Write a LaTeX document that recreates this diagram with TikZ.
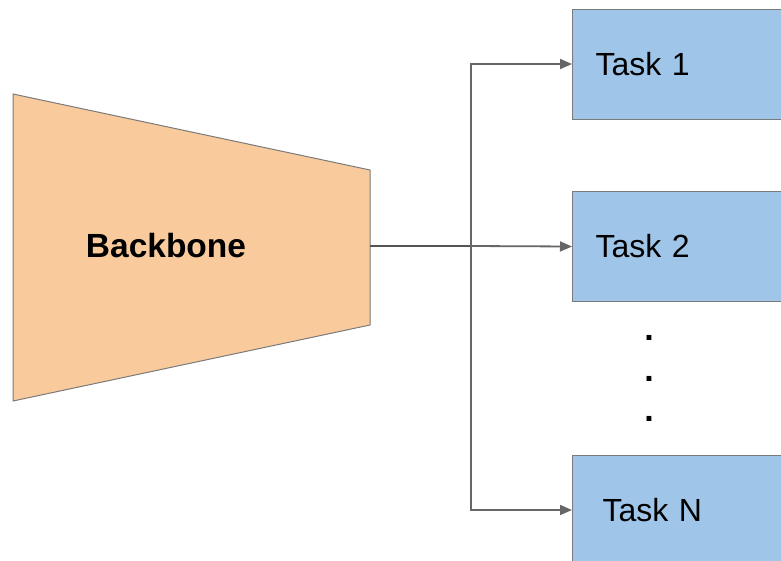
\documentclass[tikz,border=0pt]{standalone}
\usepackage{fontspec}
\setmainfont{Liberation Sans}
\usepackage{tikz}
\usetikzlibrary{arrows.meta}

\definecolor{bbfill}{HTML}{F9CB9C}
\definecolor{taskfill}{HTML}{9FC5E8}
\definecolor{linegray}{HTML}{666666}
\definecolor{stubgray}{HTML}{555555}
\definecolor{edgegray}{HTML}{7A7A7A}

\tikzset{
  taskbox/.style={draw=edgegray, line width=1pt, fill=taskfill, anchor=west,
    minimum height=110pt, text width=200pt, inner xsep=23pt, align=left,
    font=\fontsize{32}{37}\selectfont},
  link/.style={draw=linegray, line width=1.8pt,
    -{Triangle[length=12pt,width=10pt]}},
  dotmark/.style={anchor=base, font=\bfseries\fontsize{34}{38}\selectfont, inner sep=0pt}
}

\begin{document}
\begin{tikzpicture}[x=1pt, y=-1pt]
  \useasboundingbox (0,0) rectangle (781,560);
  \clip (0,0) rectangle (781,560);

  % Define nodes
  \coordinate (bbnw) at (13,94);
  \coordinate (bbne) at (370,170);
  \coordinate (bbse) at (370,325);
  \coordinate (bbsw) at (13,401);
  \fill[bbfill, draw=edgegray, line width=1pt] (bbnw) -- (bbne) -- (bbse) -- (bbsw) -- cycle;
  \node[font=\bfseries\fontsize{33.5}{38}\selectfont] (bb) at (166,246) {Backbone};
  \coordinate (bbout) at (370,246);
  \coordinate (split) at (471,246);

  \node[taskbox]                     (t1) at (572,64)  {Task 1};
  \node[taskbox]                     (t2) at (572,246.5) {Task 2};
  \node[taskbox, inner xsep=30pt]    (tn) at (572,510) {Task N};

  \node[dotmark] (d1) at (649,340) {.};
  \node[dotmark] (d2) at (649,381) {.};
  \node[dotmark] (d3) at (649,421) {.};

  % Connect the nodes
  \draw[draw=stubgray, line width=2.2pt] (bbout) -- (split);
  \draw[link] (split) |- (t1.west);
  \draw[link] (split) -- (t2.west);
  \draw[link] (split) |- (tn.west);
\end{tikzpicture}
\end{document}
